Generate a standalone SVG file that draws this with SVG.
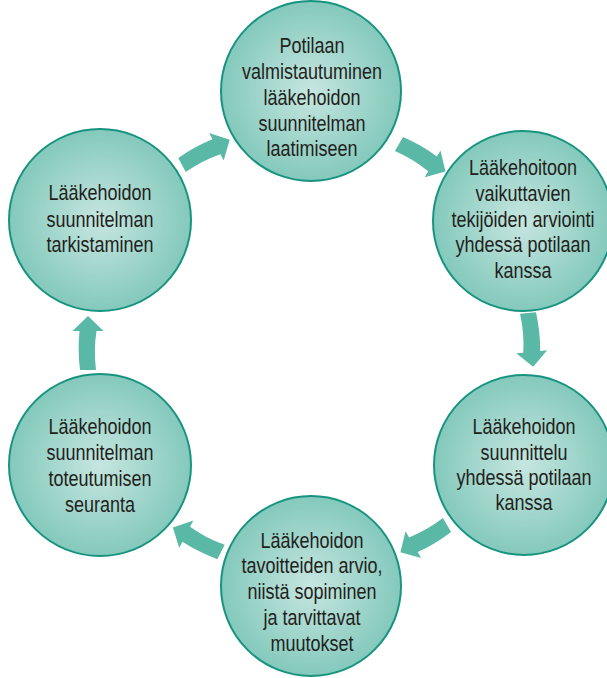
<svg xmlns="http://www.w3.org/2000/svg" xmlns:xlink="http://www.w3.org/1999/xlink" width="607" height="678" viewBox="0 0 607 678">
<style>
.c{fill:url(#g);stroke:#17947f;stroke-width:2}
.t{font-family:"Liberation Sans",Arial,sans-serif;font-size:22.5px;fill:#231f20;text-anchor:middle}
.a{fill:#5ab8a6}
</style>
<defs>
<radialGradient id="g" cx="0.5" cy="0.5" r="0.5">
<stop offset="0" stop-color="#c6e6e0"/>
<stop offset="1" stop-color="#84c9bc"/>
</radialGradient>
<path id="arr" d="M0,-8 Q20,-10.5 39,-8.5 L39,-15.5 L54,0 L39,15.5 L39,8.5 Q20,5.5 0,8 Z"/>
</defs>
<rect width="607" height="678" fill="#fff"/>
<g id="connectors" class="a">
<use xlink:href="#arr" transform="translate(182,165) rotate(-28)"/>
<use xlink:href="#arr" transform="translate(399,144) rotate(30.6)"/>
<use xlink:href="#arr" transform="translate(528,313) rotate(84.5)"/>
<use xlink:href="#arr" transform="translate(447,525) rotate(149.6)"/>
<use xlink:href="#arr" transform="translate(221,552) rotate(207)"/>
<use xlink:href="#arr" transform="translate(88,370) rotate(-90)"/>
</g>
<g id="n1">
<circle class="c" cx="311" cy="91" r="90"/>
<text class="t" transform="translate(312,0) scale(0.8,1)"><tspan x="0" y="53">Potilaan</tspan><tspan x="0" y="79">valmistautuminen</tspan><tspan x="0" y="105">lääkehoidon</tspan><tspan x="0" y="131">suunnitelman</tspan><tspan x="0" y="156">laatimiseen</tspan></text>
</g>
<g id="n2">
<circle class="c" cx="523" cy="221" r="90"/>
<text class="t" transform="translate(523,0) scale(0.8,1)"><tspan x="0" y="175">Lääkehoitoon</tspan><tspan x="0" y="201">vaikuttavien</tspan><tspan x="0" y="227">tekijöiden arviointi</tspan><tspan x="0" y="252">yhdessä potilaan</tspan><tspan x="0" y="278">kanssa</tspan></text>
</g>
<g id="n3">
<circle class="c" cx="524" cy="465" r="90"/>
<text class="t" transform="translate(524,0) scale(0.8,1)"><tspan x="0" y="434">Lääkehoidon</tspan><tspan x="0" y="460">suunnittelu</tspan><tspan x="0" y="485">yhdessä potilaan</tspan><tspan x="0" y="510">kanssa</tspan></text>
</g>
<g id="n4">
<circle class="c" cx="311" cy="586" r="90"/>
<text class="t" transform="translate(312,0) scale(0.8,1)"><tspan x="0" y="548">Lääkehoidon</tspan><tspan x="0" y="573">tavoitteiden arvio,</tspan><tspan x="0" y="599">niistä sopiminen</tspan><tspan x="0" y="625">ja tarvittavat</tspan><tspan x="0" y="651">muutokset</tspan></text>
</g>
<g id="n5">
<circle class="c" cx="100" cy="465" r="91"/>
<text class="t" transform="translate(100,0) scale(0.8,1)"><tspan x="0" y="434">Lääkehoidon</tspan><tspan x="0" y="460">suunnitelman</tspan><tspan x="0" y="486">toteutumisen</tspan><tspan x="0" y="512">seuranta</tspan></text>
</g>
<g id="n6">
<circle class="c" cx="100" cy="220" r="91"/>
<text class="t" transform="translate(100,0) scale(0.8,1)"><tspan x="0" y="200">Lääkehoidon</tspan><tspan x="0" y="227">suunnitelman</tspan><tspan x="0" y="252">tarkistaminen</tspan></text>
</g>
</svg>
